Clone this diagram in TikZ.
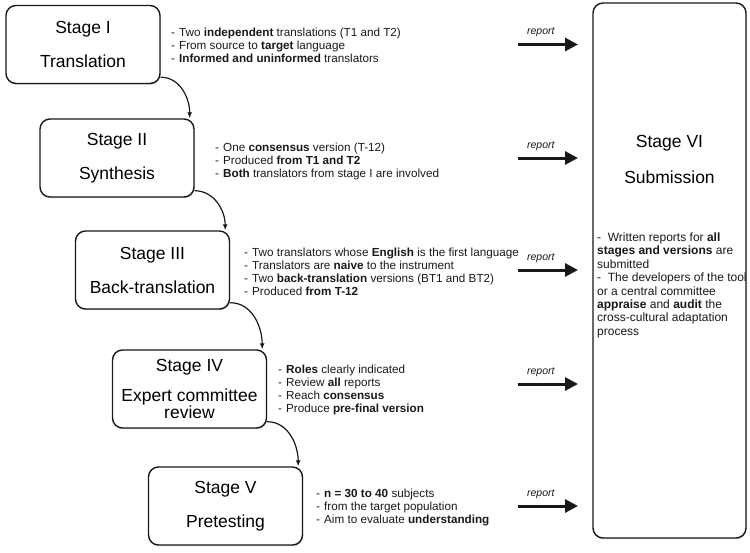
\documentclass[tikz,border=0pt]{standalone}
\usepackage{fontspec}
\setmainfont{Liberation Sans}
\usetikzlibrary{arrows.meta,shadows}
\newcommand\itm[1]{\makebox[8pt][l]{-}#1}
\begin{document}
\begin{tikzpicture}[x=1pt,y=-1pt,
  stagebox/.style={draw=black!90, line width=1.4pt, rounded corners=10pt, fill=white,
    align=center, font=\fontsize{17.5}{21}\selectfont, minimum width=154pt,
    minimum height=78pt, inner sep=0pt,
    drop shadow={shadow xshift=0.6pt, shadow yshift=-1.2pt, fill=black!40, opacity=0.5}},
  titletext/.style={inner sep=0pt, font=\fontsize{17.5}{21}\selectfont},
  bullets/.style={anchor=north west, align=left, inner sep=0pt, text=black!90,
    font=\fontsize{11.7}{13}\selectfont},
  flow/.style={-{Latex[length=6pt,width=5pt]}, line width=1.2pt, black!90},
  rep/.style={-{Triangle[length=13pt,width=13pt]}, line width=3pt, black!90},
  replabel/.style={font=\fontsize{10.5}{12}\selectfont\itshape, inner sep=0pt,
    above=6pt, pos=0.38}]
\useasboundingbox (0,0) rectangle (750,552);

% stage boxes
\node[stagebox] (b1) at (83,44.5) {Stage I\\[13pt]Translation};
\node[stagebox] (b2) at (117,158) {Stage II\\[13pt]Synthesis};
\node[stagebox] (b3) at (152.5,270) {Stage III\\[13pt]Back-translation};
\node[stagebox] (b4) at (189.5,389) {Stage IV\\[9pt]Expert committee\\[-4pt]review};
\node[stagebox] (b5) at (225.5,506) {Stage V\\[13pt]Pretesting};
\node[stagebox, minimum width=153pt, minimum height=535pt] (b6) at (669.5,270.5) {};
\node[titletext] (s6a) at (669.5,143) {Stage VI};
\node[titletext] (s6b) at (669.5,177) {Submission};

% bullet texts
\node[bullets] (t1) at (171,27) {\strut\itm{Two \textbf{independent} translations (T1 and T2)}\\
  \itm{From source to \textbf{target} language}\\
  \itm{\textbf{Informed and uninformed} translators}};
\node[bullets] (t2) at (215,142) {\strut\itm{One \textbf{consensus} version (T-12)}\\
  \itm{Produced \textbf{from T1 and T2}}\\
  \itm{\textbf{Both} translators from stage I are involved}};
\node[bullets] (t3) at (244,247) {\strut\itm{Two translators whose \textbf{English} is the first language}\\
  \itm{Translators are \textbf{naive} to the instrument}\\
  \itm{Two \textbf{back-translation} versions (BT1 and BT2)}\\
  \itm{Produced \textbf{from T-12}}};
\node[bullets] (t4) at (278,364) {\strut\itm{\textbf{Roles} clearly indicated}\\
  \itm{Review \textbf{all} reports}\\
  \itm{Reach \textbf{consensus}}\\
  \itm{Produce \textbf{pre-final version}}};
\node[bullets] (t5) at (316,488) {\strut\itm{\textbf{n = 30 to 40} subjects}\\
  \itm{from the target population}\\
  \itm{Aim to evaluate \textbf{understanding}}};
\node[bullets, font=\fontsize{12}{13.4}\selectfont] (t6) at (597,232) {\strut-\ \ Written reports for \textbf{all}\\
  \textbf{stages and versions} are\\
  submitted\\
  -\ \ The developers of the tool\\
  or a central committee\\
  \textbf{appraise} and \textbf{audit} the\\
  cross-cultural adaptation\\
  process};

% flow connectors
\draw[flow] ([yshift=7pt]b1.south east) to[out=0,in=90] ([xshift=-5pt]b2.north east);
\draw[flow] ([yshift=7pt]b2.south east) to[out=0,in=90] ([xshift=-5pt]b3.north east);
\draw[flow] ([yshift=7pt]b3.south east) to[out=0,in=90] ([xshift=-5pt]b4.north east);
\draw[flow] ([yshift=7pt]b4.south east) to[out=0,in=90] ([xshift=-5pt]b5.north east);

% report arrows
\coordinate (rs) at (518,0);
\coordinate (re) at (578,0);
\draw[rep] (rs |- b1) -- node[replabel] (l1) {report} (re |- b1);
\draw[rep] (rs |- b2) -- node[replabel] (l2) {report} (re |- b2);
\draw[rep] (rs |- b3) -- node[replabel] (l3) {report} (re |- b3);
\draw[rep] ([yshift=5pt]rs |- b4) -- node[replabel] (l4) {report} ([yshift=5pt]re |- b4);
\draw[rep] (rs |- b5) -- node[replabel] (l5) {report} (re |- b5);
\end{tikzpicture}
\end{document}
